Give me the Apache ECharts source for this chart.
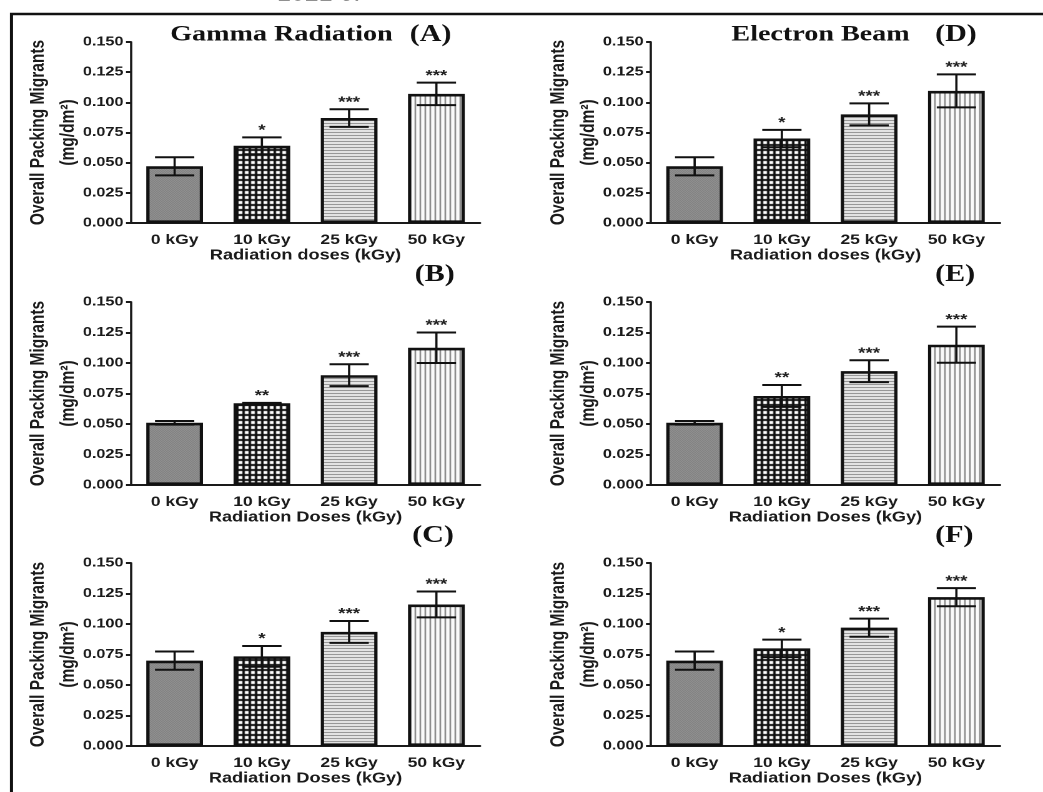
<!DOCTYPE html>
<html><head><meta charset="utf-8">
<script src="https://cdn.jsdelivr.net/npm/echarts@6/dist/echarts.min.js"></script>
<style>html,body{margin:0;padding:0;background:#fff;overflow:hidden}
#c{width:835px;height:792px;transform:scaleX(1.249102);transform-origin:0 0}</style>
</head><body><div id="c"></div>
<script>
// ---------------- data ----------------
const categories = ['0 kGy', '10 kGy', '25 kGy', '50 kGy'];
const yTickLabels = ['0.000', '0.025', '0.050', '0.075', '0.100', '0.125', '0.150'];
const yStep = 0.025;
const yMax = 0.15;

// Gamma radiation panels
const meanA = [0.047, 0.064, 0.087, 0.107];
const errA  = [0.0075, 0.007, 0.0073, 0.0093];
const sigA  = ['', '*', '***', '***'];
const meanB = [0.051, 0.067, 0.090, 0.1125];
const errB  = [0.0015, 0.0003, 0.009, 0.0125];
const sigB  = ['', '**', '***', '***'];
const meanC = [0.070, 0.0735, 0.0935, 0.116];
const errC  = [0.0075, 0.0085, 0.009, 0.0106];
const sigC  = ['', '*', '***', '***'];
// Electron beam panels
const meanD = [0.047, 0.070, 0.090, 0.1095];
const errD  = [0.0075, 0.0072, 0.0091, 0.0137];
const sigD  = ['', '*', '***', '***'];
const meanE = [0.051, 0.073, 0.0933, 0.115];
const errE  = [0.0015, 0.009, 0.009, 0.0148];
const sigE  = ['', '**', '***', '***'];
const meanF = [0.070, 0.080, 0.097, 0.122];
const errF  = [0.0075, 0.0072, 0.0074, 0.0074];
const sigF  = ['', '*', '***', '***'];

const columnTitles = ['Gamma Radiation', 'Electron Beam'];
const panelLetters = ['(A)', '(B)', '(C)', '(D)', '(E)', '(F)'];
const xAxisNames = ['Radiation doses (kGy)', 'Radiation Doses (kGy)', 'Radiation Doses (kGy)',
                    'Radiation doses (kGy)', 'Radiation Doses (kGy)', 'Radiation Doses (kGy)'];
const yAxisName = 'Overall Packing Migrants\n(mg/dm\u00B2)';
const topCutText = '1021 e.';

// ---------------- build ----------------
const panels = [
  {mean: meanA, err: errA, sig: sigA},
  {mean: meanB, err: errB, sig: sigB},
  {mean: meanC, err: errC, sig: sigC},
  {mean: meanD, err: errD, sig: sigD},
  {mean: meanE, err: errE, sig: sigE},
  {mean: meanF, err: errF, sig: sigF}
];

const SANS = "'Liberation Sans', Arial, Helvetica, sans-serif";
const SERIF = "'Liberation Serif', 'Times New Roman', serif";
const INK = '#1a1a1a';

function tile(w, h, draw) {
  const c = document.createElement('canvas');
  c.width = w; c.height = h;
  const g = c.getContext('2d');
  draw(g);
  return {image: c, repeat: 'repeat'};
}
const patterns = [
  tile(2, 2, g => { g.fillStyle = '#a0a0a0'; g.fillRect(0, 0, 2, 2); g.fillStyle = '#737373'; g.fillRect(0, 0, 1, 1); g.fillRect(1, 1, 1, 1); }),
  tile(5, 5, g => { g.fillStyle = '#101010'; g.fillRect(0, 0, 5, 5); g.fillStyle = '#ffffff'; g.fillRect(1, 1, 3, 3); }),
  tile(4, 3, g => { g.fillStyle = '#f2f2f2'; g.fillRect(0, 0, 4, 3); g.fillStyle = '#7a7a7a'; g.fillRect(0, 0, 4, 1); }),
  tile(4, 4, g => { g.fillStyle = '#fafafa'; g.fillRect(0, 0, 4, 4); g.fillStyle = '#6a6a6a'; g.fillRect(0, 0, 1, 4); })
];

const S = 1043 / 835;
const colLeft = [131 / S, 651 / S];
const gridW = 349 / S;
const rowTop = [42, 302, 563];
const rowH = [181, 183, 183];

const grids = [], xAxes = [], yAxes = [], series = [];
panels.forEach((p, k) => {
  const col = Math.floor(k / 3), row = k % 3;
  grids.push({left: colLeft[col], top: rowTop[row], width: gridW, height: rowH[row], containLabel: false});
  xAxes.push({
    type: 'category', gridIndex: k, data: categories,
    axisLine: {lineStyle: {color: INK, width: 2}},
    axisTick: {show: false},
    axisLabel: {color: INK, fontFamily: SANS, fontWeight: 'bold', fontSize: 14, margin: 10},
    name: xAxisNames[k], nameLocation: 'middle', nameGap: 25, nameMoveOverlap: false,
    nameTextStyle: {color: INK, fontFamily: SANS, fontWeight: 'bold', fontSize: 14.5}
  });
  yAxes.push({
    type: 'value', gridIndex: k, min: 0, max: yMax, interval: yStep,
    splitLine: {show: false},
    axisLine: {show: true, lineStyle: {color: INK, width: 1.8}},
    axisTick: {show: true, length: 4, lineStyle: {color: INK, width: 2}},
    axisLabel: {color: INK, fontFamily: SANS, fontWeight: 'bold', fontSize: 13, margin: 6,
      formatter: v => yTickLabels[Math.round(v / yStep)]},
    name: yAxisName, nameLocation: 'middle', nameRotate: 90, nameGap: 38, nameMoveOverlap: false,
    nameTextStyle: {color: INK, fontFamily: SANS, fontWeight: 'bold', fontSize: 15.5, lineHeight: 24, align: 'center'}
  });
  series.push({
    type: 'bar', xAxisIndex: k, yAxisIndex: k, barWidth: '65%', z: 2,
    data: p.mean.map((v, i) => ({value: v, itemStyle: {color: patterns[i], borderColor: '#111', borderWidth: 2.6}})),
    emphasis: {disabled: true}
  });
  const sig = p.sig;
  series.push({
    type: 'custom', xAxisIndex: k, yAxisIndex: k, z: 5, clip: false,
    data: p.mean.map((v, i) => [i, v, p.err[i]]),
    encode: {x: 0, y: 1},
    renderItem: function (params, api) {
      const i = api.value(0), m = api.value(1), e = api.value(2);
      const top = api.coord([i, m + e]);
      const bot = api.coord([i, m - e]);
      const hw = api.size([1, 0])[0] * 0.225;
      const x = top[0];
      const ch = [
        {type: 'line', shape: {x1: x, y1: top[1], x2: x, y2: bot[1]}, style: {stroke: '#111', lineWidth: 1.8}},
        {type: 'line', shape: {x1: x - hw, y1: top[1], x2: x + hw, y2: top[1]}, style: {stroke: '#111', lineWidth: 2}},
        {type: 'line', shape: {x1: x - hw, y1: bot[1], x2: x + hw, y2: bot[1]}, style: {stroke: '#111', lineWidth: 2}}
      ];
      const s = sig[params.dataIndex];
      if (s) ch.push({type: 'text', style: {text: s, x: x, y: top[1] - 7, align: 'center', verticalAlign: 'middle',
        fontSize: 15, fontWeight: 'bold', fontFamily: SANS, fill: '#222'}});
      return {type: 'group', children: ch};
    }
  });
});

const titleStyle = (txt, x, y, size, align) => ({
  type: 'text', x: x, y: y,
  style: {text: txt, fontFamily: SERIF, fontWeight: 'bold', fontSize: size, fill: '#111', align: align, verticalAlign: 'middle'}
});
const letterPos = [[328, 35], [332, 275], [330, 536], [748.6, 35], [748.6, 275], [748.6, 536]];
const graphics = [
  {type: 'polyline', shape: {points: [[11.5 / S, 792], [11.5 / S, 14], [835, 14]]}, style: {stroke: '#111', lineWidth: 2.5, fill: null}},
  {type: 'text', x: 277 / S, y: -5, style: {text: topCutText, fontFamily: SANS, fontSize: 20, fill: '#222', align: 'left', verticalAlign: 'middle'}},
  titleStyle(columnTitles[0], 225.3, 34.5, 22.5, 'center'),
  titleStyle(columnTitles[1], 656.9, 34.5, 22.5, 'center')
];
panelLetters.forEach((t, k) => graphics.push(titleStyle(t, letterPos[k][0], letterPos[k][1], 24, 'left')));

const chart = echarts.init(document.getElementById('c'), null, {renderer: 'canvas', devicePixelRatio: 2});
chart.setOption({
  animation: false,
  backgroundColor: '#ffffff',
  grid: grids, xAxis: xAxes, yAxis: yAxes, series: series,
  graphic: graphics
});
</script></body></html>
